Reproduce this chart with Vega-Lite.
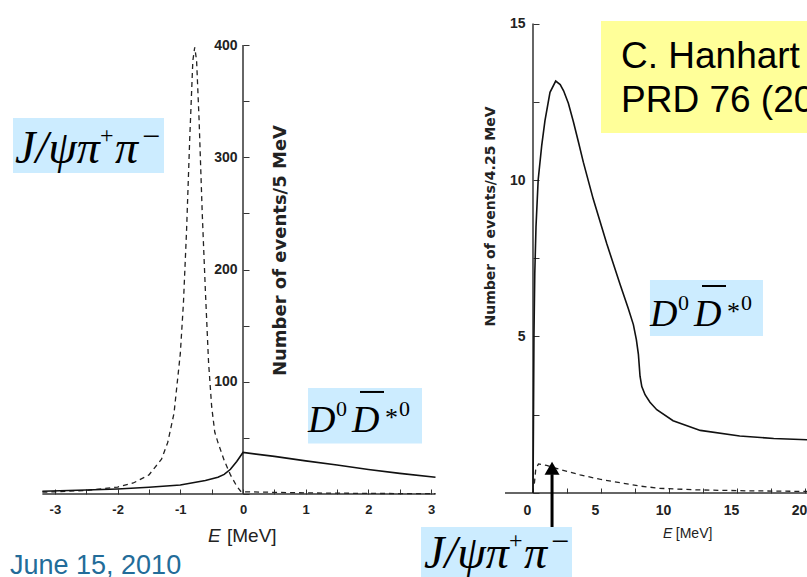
{
  "$schema": "https://vega.github.io/schema/vega-lite/v6.json",
  "width": 807,
  "height": 577,
  "autosize": {"type": "none"},
  "padding": 0,
  "background": "white",
  "config": {"view": {"stroke": null}},
  "datasets": {
    "leftSolid": [
      {"x": -3.2, "y": 2.5}, {"x": -2.5, "y": 3.5}, {"x": -2, "y": 4.5}, {"x": -1.5, "y": 6},
      {"x": -1, "y": 8}, {"x": -0.6, "y": 12}, {"x": -0.4, "y": 15}, {"x": -0.3, "y": 17.5},
      {"x": -0.2, "y": 22}, {"x": -0.1, "y": 29}, {"x": 0, "y": 37}, {"x": 0.5, "y": 33.5},
      {"x": 1, "y": 29.5}, {"x": 1.5, "y": 25.8}, {"x": 2, "y": 21.9}, {"x": 2.5, "y": 18.4}, {"x": 3.07, "y": 14.9}
    ],
    "leftDash": [
      {"x": -3.2, "y": 1.6}, {"x": -3, "y": 1.9}, {"x": -2.5, "y": 3.2}, {"x": -2, "y": 6.2},
      {"x": -1.75, "y": 9.8}, {"x": -1.5, "y": 17}, {"x": -1.3, "y": 31}, {"x": -1.2, "y": 46},
      {"x": -1.1, "y": 72}, {"x": -1.0, "y": 125}, {"x": -0.95, "y": 170}, {"x": -0.9, "y": 235},
      {"x": -0.85, "y": 316}, {"x": -0.8, "y": 386}, {"x": -0.77, "y": 398}, {"x": -0.74, "y": 386},
      {"x": -0.7, "y": 333}, {"x": -0.65, "y": 250}, {"x": -0.6, "y": 181}, {"x": -0.55, "y": 118},
      {"x": -0.5, "y": 78}, {"x": -0.45, "y": 55}, {"x": -0.4, "y": 46}, {"x": -0.35, "y": 38},
      {"x": -0.3, "y": 30}, {"x": -0.2, "y": 17}, {"x": -0.1, "y": 7}, {"x": -0.03, "y": 2},
      {"x": 0, "y": 2}, {"x": 0.5, "y": 1.5}, {"x": 1, "y": 1}, {"x": 2, "y": 0.5}, {"x": 3.07, "y": 0.3}
    ],
    "leftAxes": [
      {"x": -3.2, "x2": 3.07, "y": 0, "y2": 0},
      {"x": 0, "x2": 0, "y": 0, "y2": 400}
    ],
    "rightSolid": [
      {"x": 0, "y": 0}, {"x": 0.03, "y": 2}, {"x": 0.07, "y": 5}, {"x": 0.13, "y": 7},
      {"x": 0.22, "y": 8.5}, {"x": 0.38, "y": 10}, {"x": 0.64, "y": 11.1}, {"x": 0.88, "y": 11.9},
      {"x": 1.25, "y": 12.8}, {"x": 1.67, "y": 13.16}, {"x": 2.0, "y": 13.05}, {"x": 2.25, "y": 12.85},
      {"x": 2.6, "y": 12.45}, {"x": 2.97, "y": 11.86}, {"x": 3.35, "y": 11.2}, {"x": 3.7, "y": 10.57},
      {"x": 4.43, "y": 9.39}, {"x": 5.42, "y": 7.97}, {"x": 6.4, "y": 6.67}, {"x": 7.0, "y": 5.9},
      {"x": 7.38, "y": 5.38}, {"x": 7.6, "y": 4.9}, {"x": 7.75, "y": 4.43}, {"x": 7.87, "y": 3.73},
      {"x": 8.0, "y": 3.4}, {"x": 8.24, "y": 3.14}, {"x": 8.6, "y": 2.9}, {"x": 9.1, "y": 2.66},
      {"x": 10.3, "y": 2.31}, {"x": 12.3, "y": 2.0}, {"x": 15.2, "y": 1.82}, {"x": 17.7, "y": 1.74},
      {"x": 20.2, "y": 1.7}
    ],
    "rightDash": [
      {"x": 0.1, "y": 0.3}, {"x": 0.2, "y": 0.75}, {"x": 0.4, "y": 0.93}, {"x": 1.0, "y": 0.88},
      {"x": 2.0, "y": 0.75}, {"x": 3.46, "y": 0.58}, {"x": 4.9, "y": 0.44}, {"x": 6.4, "y": 0.33},
      {"x": 7.9, "y": 0.22}, {"x": 9.3, "y": 0.15}, {"x": 12, "y": 0.1}, {"x": 15.7, "y": 0.07},
      {"x": 20.2, "y": 0.05}
    ],
    "rightAxes": [
      {"x": -2.06, "x2": 20.2, "y": 0, "y2": 0},
      {"x": 0, "x2": 0, "y": 0, "y2": 15}
    ],
    "leftJ": [{"x": -3.636, "y": 294.9}],
    "leftD": [{"x": 1.037, "y": 55.2}],
    "rightJ": [{"x": -8.01, "y": -2.40}],
    "rightD": [{"x": 8.603, "y": 5.335}]
  },
  "layer": [
    {
      "encoding": {
        "x": {"field": "x", "type": "quantitative",
          "scale": {"domain": [-3.8756, 8.9952], "nice": false, "zero": false},
          "axis": {"orient": "bottom", "offset": -83, "title": null, "domain": false, "grid": false,
            "values": [-3, -2.5, -2, -1.5, -1, -0.5, 0, 0.5, 1, 1.5, 2, 2.5, 3],
            "labelExpr": "datum.value % 1 == 0 ? '' + datum.value : ''",
            "tickSize": -5, "tickColor": "#333", "labelPadding": 14,
            "labelFont": "Liberation Sans", "labelFontWeight": "bold", "labelFontSize": 13, "labelColor": "#222"}},
        "y": {"field": "y", "type": "quantitative",
          "scale": {"domain": [-73.94, 440.09], "nice": false, "zero": false},
          "axis": {"orient": "left", "offset": -243, "domain": false, "grid": false,
            "values": [0, 50, 100, 150, 200, 250, 300, 350, 400],
            "labelExpr": "datum.value % 100 == 0 && datum.value > 0 ? '' + datum.value : ''",
            "tickSize": -6, "tickColor": "#333", "labelPadding": 12,
            "labelFont": "Liberation Sans", "labelFontWeight": "bold", "labelFontSize": 14, "labelColor": "#222",
            "title": "Number of events/5 MeV", "titleX": 37, "titleY": 250, "titleAngle": 270,
            "titleAlign": "center", "titleBaseline": "middle",
            "titleFont": "DejaVu Sans", "titleFontWeight": "bold", "titleFontSize": 18, "titleColor": "#222"}}
      },
      "layer": [
        {"data": {"values": [
            {"x": -3.668, "x2": -1.26, "y": 335.0, "y2": 286.0},
            {"x": 1.037, "x2": 2.855, "y": 94.4, "y2": 45.0}]},
         "mark": {"type": "rect", "color": "#CCECFF"},
         "encoding": {"x2": {"field": "x2"}, "y2": {"field": "y2"}}},
        {"data": {"name": "leftAxes"},
         "mark": {"type": "rule", "color": "#333", "strokeWidth": 1.5},
         "encoding": {"x2": {"field": "x2"}, "y2": {"field": "y2"}}},
        {"data": {"name": "leftDash"},
         "mark": {"type": "line", "color": "#222", "strokeWidth": 1.3, "strokeDash": [5, 4]},
         "encoding": {}},
        {"data": {"name": "leftSolid"},
         "mark": {"type": "line", "color": "#111", "strokeWidth": 1.6},
         "encoding": {}},
        {"data": {"name": "leftJ"},
         "mark": {"type": "text", "text": "J/ψπ", "font": "Liberation Serif", "fontStyle": "italic", "fontSize": 46,
           "align": "left", "baseline": "alphabetic", "color": "black"}, "encoding": {}},
        {"data": {"name": "leftJ"},
         "mark": {"type": "text", "text": "+", "font": "Liberation Serif", "fontSize": 24, "dx": 85, "dy": -20,
           "align": "left", "baseline": "alphabetic", "color": "black"}, "encoding": {}},
        {"data": {"name": "leftJ"},
         "mark": {"type": "text", "text": "π", "font": "Liberation Serif", "fontStyle": "italic", "fontSize": 46, "dx": 100,
           "align": "left", "baseline": "alphabetic", "color": "black"}, "encoding": {}},
        {"data": {"name": "leftJ"},
         "mark": {"type": "text", "text": "−", "font": "Liberation Serif", "fontSize": 32, "dx": 127, "dy": -16,
           "align": "left", "baseline": "alphabetic", "color": "black"}, "encoding": {}},
        {"data": {"name": "leftD"},
         "mark": {"type": "text", "text": "D", "font": "Liberation Serif", "fontStyle": "italic", "fontSize": 38,
           "align": "left", "baseline": "alphabetic", "color": "black"}, "encoding": {}},
        {"data": {"name": "leftD"},
         "mark": {"type": "text", "text": "0", "font": "Liberation Serif", "fontSize": 22, "dx": 28, "dy": -16,
           "align": "left", "baseline": "alphabetic", "color": "black"}, "encoding": {}},
        {"data": {"name": "leftD"},
         "mark": {"type": "text", "text": "D", "font": "Liberation Serif", "fontStyle": "italic", "fontSize": 38, "dx": 44,
           "align": "left", "baseline": "alphabetic", "color": "black"}, "encoding": {}},
        {"data": {"name": "leftD"},
         "mark": {"type": "text", "text": "*", "font": "Liberation Serif", "fontSize": 26, "dx": 77, "dy": -6,
           "align": "left", "baseline": "alphabetic", "color": "black"}, "encoding": {}},
        {"data": {"name": "leftD"},
         "mark": {"type": "text", "text": "0", "font": "Liberation Serif", "fontSize": 22, "dx": 91, "dy": -16,
           "align": "left", "baseline": "alphabetic", "color": "black"}, "encoding": {}},
        {"data": {"values": [{"x": 1.866, "x2": 2.249, "y": 90.9}]},
         "mark": {"type": "rule", "color": "black", "strokeWidth": 2},
         "encoding": {"x2": {"field": "x2"}}},
        {"data": {"values": [{"x": -0.558, "y": -42.8, "t": "E"}]},
         "mark": {"type": "text", "font": "Liberation Sans", "fontStyle": "italic", "fontSize": 19,
           "align": "left", "baseline": "alphabetic", "color": "#222"},
         "encoding": {"text": {"field": "t"}}},
        {"data": {"values": [{"x": -0.255, "y": -42.8, "t": "[MeV]"}]},
         "mark": {"type": "text", "font": "Liberation Sans", "fontSize": 19,
           "align": "left", "baseline": "alphabetic", "color": "#222"},
         "encoding": {"text": {"field": "t"}}},
        {"data": {"values": [{"x": -3.716, "y": -71.7, "t": "June 15, 2010"}]},
         "mark": {"type": "text", "font": "Liberation Sans", "fontSize": 27,
           "align": "left", "baseline": "alphabetic", "color": "#236C99"},
         "encoding": {"text": {"field": "t"}}}
      ]
    },
    {
      "encoding": {
        "x": {"field": "x", "type": "quantitative",
          "scale": {"domain": [-39.191, 20.147], "nice": false, "zero": false},
          "axis": {"orient": "bottom", "offset": -84, "title": null, "domain": false, "grid": false,
            "values": [0, 2.5, 5, 7.5, 10, 12.5, 15, 17.5, 20],
            "labelExpr": "datum.value % 5 == 0 ? '' + datum.value : ''",
            "tickSize": -5, "tickColor": "#333", "labelPadding": 15, "labelOffset": -6,
            "labelFont": "Liberation Sans", "labelFontWeight": "bold", "labelFontSize": 14, "labelColor": "#222"}},
        "y": {"field": "y", "type": "quantitative",
          "scale": {"domain": [-2.684, 15.751], "nice": false, "zero": false},
          "axis": {"orient": "left", "offset": -533, "domain": false, "grid": false,
            "values": [0, 2.5, 5, 7.5, 10, 12.5, 15],
            "labelExpr": "datum.value % 5 == 0 && datum.value > 0 ? '' + datum.value : ''",
            "tickSize": -6, "tickColor": "#333", "labelPadding": 14,
            "labelFont": "Liberation Sans", "labelFontWeight": "bold", "labelFontSize": 14, "labelColor": "#222",
            "title": "Number of events/4.25 MeV", "titleX": -43, "titleY": 216, "titleAngle": 270,
            "titleAlign": "center", "titleBaseline": "middle",
            "titleFont": "DejaVu Sans", "titleFontWeight": "bold", "titleFontSize": 14, "titleColor": "#222"}}
      },
      "layer": [
        {"data": {"values": [
            {"x": 5.0, "x2": 21, "y": 15.08, "y2": 11.5}]},
         "mark": {"type": "rect", "color": "#FFFF99"},
         "encoding": {"x2": {"field": "x2"}, "y2": {"field": "y2"}}},
        {"data": {"values": [
            {"x": 8.6, "x2": 16.91, "y": 6.805, "y2": 5.016},
            {"x": -8.235, "x2": 2.868, "y": -1.086, "y2": -2.8}]},
         "mark": {"type": "rect", "color": "#CCECFF"},
         "encoding": {"x2": {"field": "x2"}, "y2": {"field": "y2"}}},
        {"data": {"name": "rightAxes"},
         "mark": {"type": "rule", "color": "#333", "strokeWidth": 1.5},
         "encoding": {"x2": {"field": "x2"}, "y2": {"field": "y2"}}},
        {"data": {"name": "rightDash"},
         "mark": {"type": "line", "color": "#222", "strokeWidth": 1.3, "strokeDash": [5, 4]},
         "encoding": {}},
        {"data": {"name": "rightSolid"},
         "mark": {"type": "line", "color": "#111", "strokeWidth": 1.6},
         "encoding": {}},
        {"data": {"values": [{"x": 1.4, "x2": 1.4, "y": -1.086, "y2": 0.6}]},
         "mark": {"type": "rule", "color": "black", "strokeWidth": 3},
         "encoding": {"x2": {"field": "x2"}, "y2": {"field": "y2"}}},
        {"data": {"values": [{"x": 1.4, "y": 0.79}]},
         "mark": {"type": "point", "shape": "triangle-up", "filled": true, "color": "black", "size": 225, "opacity": 1},
         "encoding": {}},
        {"data": {"values": [{"x": 6.47, "y": 13.569, "t": "C. Hanhart et al."}, {"x": 6.47, "y": 12.182, "t": "PRD 76 (2007)"}]},
         "mark": {"type": "text", "font": "Liberation Sans", "fontSize": 37,
           "align": "left", "baseline": "alphabetic", "color": "black"},
         "encoding": {"text": {"field": "t"}}},
        {"data": {"name": "rightD"},
         "mark": {"type": "text", "text": "D", "font": "Liberation Serif", "fontStyle": "italic", "fontSize": 38,
           "align": "left", "baseline": "alphabetic", "color": "black"}, "encoding": {}},
        {"data": {"name": "rightD"},
         "mark": {"type": "text", "text": "0", "font": "Liberation Serif", "fontSize": 22, "dx": 28, "dy": -16,
           "align": "left", "baseline": "alphabetic", "color": "black"}, "encoding": {}},
        {"data": {"name": "rightD"},
         "mark": {"type": "text", "text": "D", "font": "Liberation Serif", "fontStyle": "italic", "fontSize": 38, "dx": 44,
           "align": "left", "baseline": "alphabetic", "color": "black"}, "encoding": {}},
        {"data": {"name": "rightD"},
         "mark": {"type": "text", "text": "*", "font": "Liberation Serif", "fontSize": 26, "dx": 77, "dy": -6,
           "align": "left", "baseline": "alphabetic", "color": "black"}, "encoding": {}},
        {"data": {"name": "rightD"},
         "mark": {"type": "text", "text": "0", "font": "Liberation Serif", "fontSize": 22, "dx": 91, "dy": -16,
           "align": "left", "baseline": "alphabetic", "color": "black"}, "encoding": {}},
        {"data": {"values": [{"x": 12.426, "x2": 14.191, "y": 6.613}]},
         "mark": {"type": "rule", "color": "black", "strokeWidth": 2},
         "encoding": {"x2": {"field": "x2"}}},
        {"data": {"name": "rightJ"},
         "mark": {"type": "text", "text": "J/ψπ", "font": "Liberation Serif", "fontStyle": "italic", "fontSize": 46,
           "align": "left", "baseline": "alphabetic", "color": "black"}, "encoding": {}},
        {"data": {"name": "rightJ"},
         "mark": {"type": "text", "text": "+", "font": "Liberation Serif", "fontSize": 24, "dx": 85, "dy": -20,
           "align": "left", "baseline": "alphabetic", "color": "black"}, "encoding": {}},
        {"data": {"name": "rightJ"},
         "mark": {"type": "text", "text": "π", "font": "Liberation Serif", "fontStyle": "italic", "fontSize": 46, "dx": 100,
           "align": "left", "baseline": "alphabetic", "color": "black"}, "encoding": {}},
        {"data": {"name": "rightJ"},
         "mark": {"type": "text", "text": "−", "font": "Liberation Serif", "fontSize": 32, "dx": 127, "dy": -16,
           "align": "left", "baseline": "alphabetic", "color": "black"}, "encoding": {}},
        {"data": {"values": [{"x": 9.56, "y": -1.44, "t": "E"}]},
         "mark": {"type": "text", "font": "Liberation Sans", "fontStyle": "italic", "fontSize": 14,
           "align": "left", "baseline": "alphabetic", "color": "#222"},
         "encoding": {"text": {"field": "t"}}},
        {"data": {"values": [{"x": 10.5, "y": -1.44, "t": "[MeV]"}]},
         "mark": {"type": "text", "font": "Liberation Sans", "fontSize": 14,
           "align": "left", "baseline": "alphabetic", "color": "#222"},
         "encoding": {"text": {"field": "t"}}}
      ]
    }
  ],
  "resolve": {
    "scale": {"x": "independent", "y": "independent"},
    "axis": {"x": "independent", "y": "independent"}
  }
}
